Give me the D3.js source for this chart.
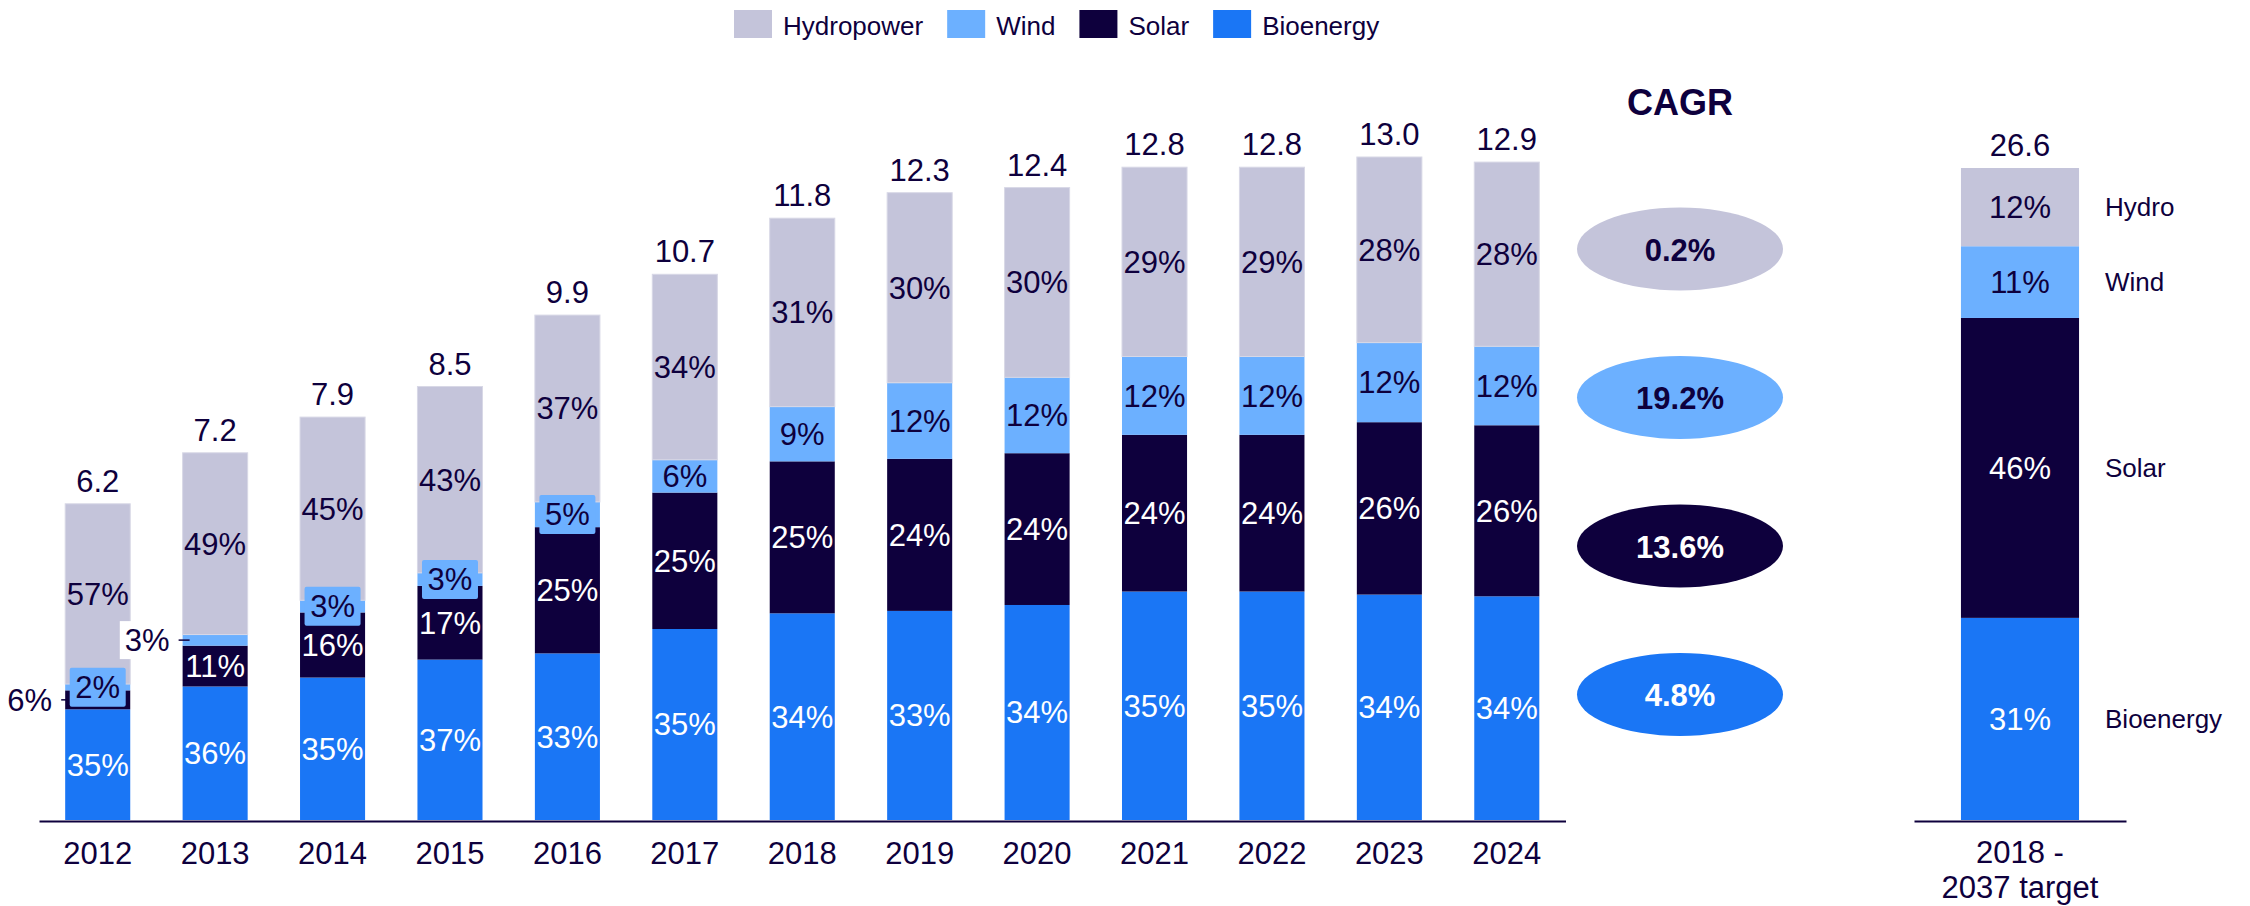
<!DOCTYPE html>
<html>
<head>
<meta charset="utf-8">
<script src="https://cdn.jsdelivr.net/npm/d3@7/dist/d3.min.js"></script>
<style>
  html, body { margin: 0; padding: 0; background: #ffffff; }
  svg { display: block; }
  text { font-family: "Liberation Sans", Arial, Helvetica, sans-serif; }
</style>
</head>
<body>
<svg id="chart" width="2250" height="906"></svg>
<script>
// ---------------- DATA ----------------
const years = ["2012","2013","2014","2015","2016","2017","2018","2019","2020","2021","2022","2023","2024"];
const totals = [6.2, 7.2, 7.9, 8.5, 9.9, 10.7, 11.8, 12.3, 12.4, 12.8, 12.8, 13.0, 12.9];
const bioShare   = [35, 36, 35, 37, 33, 35, 34, 33, 34, 35, 35, 34, 34];
const solarShare = [6, 11, 16, 17, 25, 25, 25, 24, 24, 24, 24, 26, 26];
const windShare  = [2, 3, 3, 3, 5, 6, 9, 12, 12, 12, 12, 12, 12];
const hydroShare = [57, 49, 45, 43, 37, 34, 31, 30, 30, 29, 29, 28, 28];

const seriesNames = ["Bioenergy", "Solar", "Wind", "Hydropower"];
const legendNames = ["Hydropower", "Wind", "Solar", "Bioenergy"];

const targetCategory = "2018 - 2037 target";
const targetTickLines = ["2018 -", "2037 target"];
const targetTotal = 26.6;
const targetShare = [31, 46, 11, 12];            // Bioenergy, Solar, Wind, Hydro
const targetSideLabels = ["Bioenergy", "Solar", "Wind", "Hydro"];

const cagrTitle = "CAGR";
const cagrSeries = ["Hydropower", "Wind", "Solar", "Bioenergy"];
const cagrValues = ["0.2%", "19.2%", "13.6%", "4.8%"];

// labels drawn in a coloured box (small segments)
const boxedLabels = [["2012","Wind"], ["2014","Wind"], ["2015","Wind"], ["2016","Wind"]];
// labels drawn outside the bar, to the left, with a leader tick
const outsideLabels = [["2012","Solar"], ["2013","Wind"]];

// ---------------- STYLE ----------------
const colors = {
  "Hydropower": "#C4C4DA",
  "Wind": "#6CB0FF",
  "Solar": "#0E003D",
  "Bioenergy": "#1A76F5"
};
const navy = "#0E003D";
const labelColor = { "Hydropower": navy, "Wind": navy, "Solar": "#ffffff", "Bioenergy": "#ffffff" };

const svg = d3.select("#chart");

// ---------------- TABLE ----------------
const shareBySeries = { "Bioenergy": bioShare, "Solar": solarShare, "Wind": windShare, "Hydropower": hydroShare };
const rows = years.map((yr, i) => {
  const sum = seriesNames.reduce((a, s) => a + shareBySeries[s][i], 0);
  const r = { year: yr, total: totals[i] };
  seriesNames.forEach(s => {
    r[s] = totals[i] * shareBySeries[s][i] / sum;
    r[s + "_pct"] = shareBySeries[s][i];
  });
  return r;
});
const stacked = d3.stack().keys(seriesNames)(rows);

// ---------------- SCALES ----------------
const baseY = 820;
const x = d3.scaleBand().domain(years).range([39, 1565.5]).paddingInner(0.446).paddingOuter(0.223);
const y = d3.scaleLinear().domain([0, 13]).range([baseY, baseY - 13 * 51.0]);

const xT = d3.scaleBand().domain([targetCategory]).range([1914, 2126]).paddingInner(0.443).paddingOuter(0.2215);
const yT = d3.scaleLinear().domain([0, targetTotal]).range([baseY, 168]);

// ---------------- LEGEND ----------------
const legend = svg.append("g");
let lx = 734;
legendNames.forEach(name => {
  legend.append("rect").attr("x", lx).attr("y", 10).attr("width", 38).attr("height", 28).attr("fill", colors[name]);
  const t = legend.append("text").attr("x", lx + 49).attr("y", 35)
    .attr("font-size", 26).attr("fill", navy).text(name);
  const w = t.node().getComputedTextLength();
  lx = lx + 49 + w + 24;
});

// ---------------- MAIN BARS ----------------
const gBars = svg.append("g");
stacked.forEach(layer => {
  const s = layer.key;
  gBars.selectAll(null).data(layer).enter().append("rect")
    .attr("x", d => x(d.data.year))
    .attr("width", x.bandwidth())
    .attr("y", d => y(d[1]))
    .attr("height", d => y(d[0]) - y(d[1]))
    .attr("fill", colors[s])
    .attr("stroke", s === "Hydropower" ? "#D8D8E6" : "none")
    .attr("stroke-width", 1);
});

// axis line + year labels
const xAxis = d3.axisBottom(x).tickSize(0).tickPadding(0);
const gx = svg.append("g").attr("transform", `translate(0,${baseY + 1})`).call(xAxis);
gx.select(".domain").attr("stroke", navy).attr("stroke-width", 2);
gx.selectAll("text").attr("font-size", 31).attr("fill", navy).attr("dy", null).attr("y", 43)
  .attr("font-family", '"Liberation Sans", Arial, sans-serif');

// total labels
svg.append("g").selectAll("text").data(rows).enter().append("text")
  .attr("x", d => x(d.year) + x.bandwidth() / 2)
  .attr("y", d => y(d.total) - 12)
  .attr("text-anchor", "middle").attr("font-size", 31).attr("fill", navy)
  .text(d => d3.format(".1f")(d.total));

// segment labels
const isIn = (list, yr, s) => list.some(p => p[0] === yr && p[1] === s);
const gLab = svg.append("g");
stacked.forEach(layer => {
  const s = layer.key;
  layer.forEach(d => {
    const yr = d.data.year;
    const cx = x(yr) + x.bandwidth() / 2;
    const cy = (y(d[0]) + y(d[1])) / 2;
    const txt = d.data[s + "_pct"] + "%";
    if (isIn(outsideLabels, yr, s)) {
      const left = x(yr);
      const t = gLab.append("text").attr("x", left - 13).attr("y", cy).attr("dy", "0.35em")
        .attr("text-anchor", "end").attr("font-size", 31).attr("fill", navy).text(txt);
      const w = t.node().getComputedTextLength();
      gLab.insert("rect", () => t.node())
        .attr("x", left - 13 - w - 5).attr("y", cy - 19).attr("width", w + 8).attr("height", 38)
        .attr("fill", "#ffffff");
      gLab.append("line").attr("x1", left - 4).attr("x2", left + 7).attr("y1", cy).attr("y2", cy)
        .attr("stroke", navy).attr("stroke-width", 1.5);
    } else if (isIn(boxedLabels, yr, s)) {
      gLab.append("rect").attr("x", cx - 28).attr("y", cy - 19.5).attr("width", 56).attr("height", 39)
        .attr("rx", 2).attr("fill", colors[s]);
      gLab.append("text").attr("x", cx).attr("y", cy).attr("dy", "0.35em")
        .attr("text-anchor", "middle").attr("font-size", 31).attr("fill", labelColor[s]).text(txt);
    } else {
      gLab.append("text").attr("x", cx).attr("y", cy).attr("dy", "0.35em")
        .attr("text-anchor", "middle").attr("font-size", 31).attr("fill", labelColor[s]).text(txt);
    }
  });
});

// ---------------- CAGR ----------------
const cagrX = 1680;
svg.append("text").attr("x", cagrX).attr("y", 115).attr("text-anchor", "middle")
  .attr("font-size", 36).attr("font-weight", "bold").attr("fill", navy).text(cagrTitle);
const cagrY = d3.scalePoint().domain(cagrSeries).range([249, 694.5]);
const gC = svg.append("g");
cagrSeries.forEach((s, i) => {
  gC.append("ellipse").attr("cx", cagrX).attr("cy", cagrY(s)).attr("rx", 103).attr("ry", 41.5)
    .attr("fill", colors[s]);
  gC.append("text").attr("x", cagrX).attr("y", cagrY(s) + 1).attr("dy", "0.35em")
    .attr("text-anchor", "middle").attr("font-size", 31).attr("font-weight", "bold")
    .attr("fill", labelColor[s]).text(cagrValues[i]);
});

// ---------------- TARGET BAR ----------------
const tRow = { cat: targetCategory };
const tSum = d3.sum(targetShare);
seriesNames.forEach((s, i) => { tRow[s] = targetTotal * targetShare[i] / tSum; tRow[s + "_pct"] = targetShare[i]; });
const tStack = d3.stack().keys(seriesNames)([tRow]);
const gT = svg.append("g");
tStack.forEach((layer, i) => {
  const s = layer.key;
  const d = layer[0];
  gT.append("rect").attr("x", xT(targetCategory)).attr("width", xT.bandwidth())
    .attr("y", yT(d[1])).attr("height", yT(d[0]) - yT(d[1])).attr("fill", colors[s]);
  const cy = (yT(d[0]) + yT(d[1])) / 2;
  gT.append("text").attr("x", xT(targetCategory) + xT.bandwidth() / 2).attr("y", cy).attr("dy", "0.35em")
    .attr("text-anchor", "middle").attr("font-size", 31).attr("fill", labelColor[s])
    .text(targetShare[i] + "%");
  gT.append("text").attr("x", xT(targetCategory) + xT.bandwidth() + 26).attr("y", cy).attr("dy", "0.35em")
    .attr("font-size", 26).attr("fill", navy).text(targetSideLabels[i]);
});
gT.append("text").attr("x", xT(targetCategory) + xT.bandwidth() / 2).attr("y", yT(targetTotal) - 12)
  .attr("text-anchor", "middle").attr("font-size", 31).attr("fill", navy).text(d3.format(".1f")(targetTotal));

const xTAxis = d3.axisBottom(xT).tickSize(0).tickPadding(0).tickFormat(() => "");
const gxt = svg.append("g").attr("transform", `translate(0,${baseY + 1})`).call(xTAxis);
gxt.select(".domain").attr("stroke", navy).attr("stroke-width", 2);
const tLabel = svg.append("text").attr("text-anchor", "middle").attr("font-size", 31).attr("fill", navy);
targetTickLines.forEach((line, i) => {
  tLabel.append("tspan").attr("x", xT(targetCategory) + xT.bandwidth() / 2).attr("y", baseY + 43 + i * 35).text(line);
});
</script>
</body>
</html>
